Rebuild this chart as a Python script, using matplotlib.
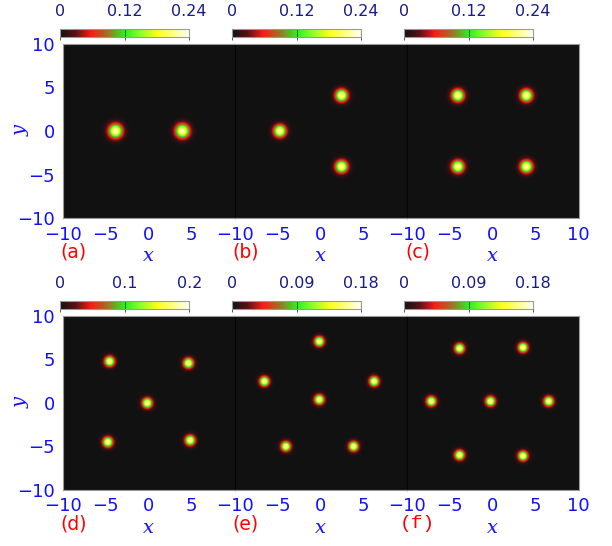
import numpy as np
import matplotlib
matplotlib.use("Agg")
import matplotlib.pyplot as plt
from matplotlib.colors import LinearSegmentedColormap

# ---- data ----
panel_labels = ["(a)", "(b)", "(c)", "(d)", "(e)", "(f)"]
spots_a_x = [-3.9, 3.9]
spots_a_y = [0.0, 0.0]
spots_b_x = [-4.8, 2.4, 2.4]
spots_b_y = [0.0, 4.1, -4.1]
spots_c_x = [-4.1, 3.9, -4.1, 3.9]
spots_c_y = [4.1, 4.1, -4.1, -4.1]
spots_d_x = [-4.6, 4.6, -0.2, -4.8, 4.8]
spots_d_y = [4.8, 4.6, 0.0, -4.5, -4.3]
spots_e_x = [-0.2, -6.6, 6.2, -0.2, -4.1, 3.8]
spots_e_y = [7.1, 2.5, 2.5, 0.4, -5.0, -5.0]
spots_f_x = [-3.9, 3.5, -7.2, -0.3, 6.5, -3.9, 3.5]
spots_f_y = [6.3, 6.4, 0.2, 0.2, 0.2, -6.0, -6.1]
vmax_list = [0.24, 0.24, 0.24, 0.2, 0.18, 0.18]
cbar_ticks = [[0, 0.12, 0.24], [0, 0.12, 0.24], [0, 0.12, 0.24],
              [0, 0.1, 0.2], [0, 0.09, 0.18], [0, 0.09, 0.18]]
cbar_ticklabels = [["0", "0.12", "0.24"], ["0", "0.12", "0.24"], ["0", "0.12", "0.24"],
                   ["0", "0.1", "0.2"], ["0", "0.09", "0.18"], ["0", "0.09", "0.18"]]
spot_widths = [0.78, 0.68, 0.68, 0.55, 0.53, 0.53]
axis_ticks = [-10, -5, 0, 5, 10]
axis_ticks_inner = [-10, -5, 0, 5]

spots_x = [spots_a_x, spots_b_x, spots_c_x, spots_d_x, spots_e_x, spots_f_x]
spots_y = [spots_a_y, spots_b_y, spots_c_y, spots_d_y, spots_e_y, spots_f_y]

cmap = LinearSegmentedColormap.from_list("bryw", [
    (0.00, (0.07, 0.07, 0.07)),
    (0.12, (0.35, 0.07, 0.07)),
    (0.24, (1.00, 0.10, 0.10)),
    (0.37, (0.62, 0.45, 0.15)),
    (0.50, (0.15, 0.95, 0.10)),
    (0.62, (0.55, 1.00, 0.15)),
    (0.76, (1.00, 1.00, 0.10)),
    (1.00, (1.00, 1.00, 0.95)),
])

fig = plt.figure(figsize=(6.12, 5.46), dpi=100)
W, H = 612.0, 546.0
lefts = [62.7, 234.7, 406.7]
pw = 172.0
row_top = [44.0, 315.7]
ph = 174.0

g = np.linspace(-10, 10, 300)
X, Y = np.meshgrid(g, g)

blue = "#1010ff"
navy = "#1a1a8c"

for i in range(6):
    r, c = divmod(i, 3)
    l = lefts[c]
    t = row_top[r]
    ax = fig.add_axes([l / W, 1 - (t + ph) / H, pw / W, ph / H])
    vmax = vmax_list[i]
    Z = np.zeros_like(X)
    w = spot_widths[i]
    for sx, sy in zip(spots_x[i], spots_y[i]):
        Z += 0.98 * vmax * np.exp(-((X - sx) ** 2 + (Y - sy) ** 2) / w ** 2)
    im = ax.imshow(Z, extent=[-10, 10, -10, 10], origin="lower", cmap=cmap,
                   vmin=0, vmax=vmax, interpolation="bilinear", aspect="auto")
    ax.set_xlim(-10, 10)
    ax.set_ylim(-10, 10)
    ax.set_xticks(axis_ticks if c == 2 else axis_ticks_inner)
    ax.set_yticks(axis_ticks)
    ax.tick_params(length=0, labelsize=13, labelcolor=blue, pad=5.5)
    for lab in ax.get_xticklabels() + ax.get_yticklabels():
        lab.set_fontfamily("DejaVu Sans")
    if c != 0:
        ax.set_yticklabels([])
    else:
        fig.text(21.0 / W, 1 - (t + ph / 2) / H, "y", fontsize=14, color=blue,
                 family="DejaVu Serif", style="italic", rotation=90,
                 ha="center", va="center")
    fig.text((l + pw / 2) / W, 1 - (t + ph + 38) / H, "x", fontsize=14, color=blue,
             family="DejaVu Serif", style="italic", ha="center", va="center")
    for s in ax.spines.values():
        s.set_color("#999999")
        s.set_linewidth(0.8)
    if c < 2:
        ax.spines["right"].set_color("#050505")
    if c > 0:
        ax.spines["left"].set_color("#050505")
    # panel label
    if i == 5:
        fig.text((l + 11) / W, 1 - (t + ph + 34) / H, panel_labels[i], color="red",
                 fontsize=14, family="Liberation Mono", ha="center", va="center")
    else:
        fig.text((l + 11) / W, 1 - (t + ph + 34) / H, panel_labels[i], color="red",
                 fontsize=13.5, family="DejaVu Sans", ha="center", va="center")
    # colorbar
    cb_top = t - 15.0
    cax = fig.add_axes([(l - 2.5) / W, 1 - (cb_top + 8) / H, 129.0 / W, 8.0 / H])
    cb = fig.colorbar(im, cax=cax, orientation="horizontal")
    cb.set_ticks(cbar_ticks[i])
    cb.set_ticklabels(cbar_ticklabels[i])
    cax.xaxis.set_ticks_position("top")
    cax.tick_params(axis="x", direction="in", length=8, width=0.6, color="#224422",
                    labelsize=11.5, labelcolor=navy, pad=7)
    for lab in cax.get_xticklabels():
        lab.set_fontfamily("DejaVu Sans")
    cb.outline.set_edgecolor("#999999")
    cb.outline.set_linewidth(0.8)

fig.savefig("out.png", dpi=100)
